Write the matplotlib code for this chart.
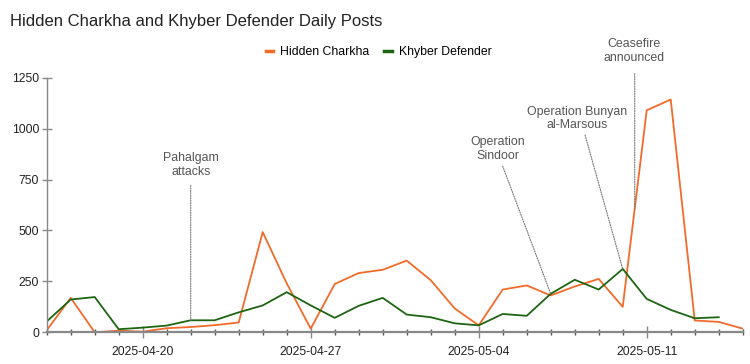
import numpy as np
import pandas as pd
import matplotlib
matplotlib.use("Agg")
import matplotlib.pyplot as plt
import matplotlib.dates as mdates
from matplotlib.lines import Line2D

plt.rcParams["font.family"] = ["Liberation Sans", "DejaVu Sans"]

# =========================
# DATA
# =========================
dates = pd.date_range("2025-04-16", "2025-05-15", freq="D")

hidden_charkha = [10, 169, 0, 8, 3, 20, 26, 35, 48, 492,
                  240, 18, 237, 291, 307, 352, 256, 117, 34, 210,
                  230, 181, 225, 262, 125, 1090, 1143, 58, 51, 18]

khyber_defender = [53, 161, 173, 15, 23, 33, 59, 59, 98, 132,
                   197, 132, 71, 130, 169, 87, 74, 44, 34, 90,
                   81, 189, 258, 210, 311, 164, 110, 69, 74]

events = ["Pahalgam\nattacks", "Operation\nSindoor",
          "Operation Bunyan\nal-Marsous", "Ceasefire\nannounced"]
event_dates = ["2025-04-22", "2025-05-07", "2025-05-10", "2025-05-10 12:00"]

ORANGE = "#F26B2A"
GREEN = "#1D6512"
GREY = "#888888"
TXT = "#555555"

# =========================
# FIGURE
# =========================
fig = plt.figure(figsize=(7.5, 3.64), dpi=100)
ax = fig.add_axes([0.0623, 0.0871, 0.928, 0.6994])

ax.plot(dates, hidden_charkha, color=ORANGE, lw=1.3)
ax.plot(dates[:len(khyber_defender)], khyber_defender, color=GREEN, lw=1.3)

ax.set_xlim(dates[0], dates[-1])
ax.set_ylim(0, 1250)
ax.set_yticks([0, 250, 500, 750, 1000, 1250])

ax.xaxis.set_major_locator(mdates.WeekdayLocator(byweekday=mdates.SU))
ax.xaxis.set_major_formatter(mdates.DateFormatter("%Y-%m-%d"))
ax.xaxis.set_minor_locator(mdates.DayLocator())

for s in ["top", "right"]:
    ax.spines[s].set_visible(False)
ax.spines["left"].set_color(GREY)
ax.spines["bottom"].set_color(GREY)
ax.spines["left"].set_linewidth(1.0)
ax.spines["bottom"].set_linewidth(1.6)

ax.tick_params(axis="y", direction="inout", length=7, width=1, color=GREY,
               labelsize=8.7, labelcolor="#222222", pad=2)
ax.tick_params(axis="x", which="major", direction="inout", length=8, width=1,
               color=GREY, labelsize=8.7, labelcolor="#222222", pad=6)
ax.tick_params(axis="x", which="minor", direction="inout", length=4, width=1,
               color="#555555")

# =========================
# EVENT ANNOTATIONS
# =========================
hc = pd.Series(hidden_charkha, index=dates)
kd = pd.Series(khyber_defender, index=dates[:len(khyber_defender)])

ev = [pd.Timestamp(d) for d in event_dates]
# point each line ends on
targets = [
    (ev[0], kd[ev[0]]),
    (ev[1], kd[ev[1]]),
    (ev[2], kd[ev[2]]),
    (ev[3], (hc[pd.Timestamp("2025-05-10")] + hc[pd.Timestamp("2025-05-11")]) / 2),
]
# where the text sits and where the dotted line starts
text_pos = [
    (ev[0], 820), (pd.Timestamp("2025-05-04 18:40"), 900),
    (pd.Timestamp("2025-05-08 02:00"), 1050), (pd.Timestamp("2025-05-10 11:00"), 1380),
]
line_top = [
    (ev[0], 721), (pd.Timestamp("2025-05-05 00:00"), 815),
    (pd.Timestamp("2025-05-08 10:20"), 968), (ev[3], 1269),
]

for label, (tx, ty), (lx, ly), (px, py) in zip(events, text_pos, line_top, targets):
    ax.text(tx, ty, label, ha="center", va="center", fontsize=8.9,
            color=TXT, linespacing=1.2, clip_on=False)
    ax.annotate("", xy=(px, py), xytext=(lx, ly),
                arrowprops=dict(arrowstyle="-", linestyle=(0, (1, 1.2)),
                                color="#777777", lw=0.8,
                                shrinkA=0, shrinkB=0),
                annotation_clip=False)

# =========================
# TITLE + LEGEND
# =========================
fig.text(0.0133, 0.942, "Hidden Charkha and Khyber Defender Daily Posts",
         fontsize=12, color="#222222", va="center")

handles = [Line2D([], [], color=ORANGE, lw=2.5),
           Line2D([], [], color=GREEN, lw=2.5)]
fig.legend(handles, ["Hidden Charkha", "Khyber Defender"],
           loc="center", bbox_to_anchor=(0.505, 0.857), ncol=2, frameon=False,
           fontsize=8.8, handlelength=0.6, handletextpad=0.6, columnspacing=1.2)

fig.savefig("out.png", dpi=100)
